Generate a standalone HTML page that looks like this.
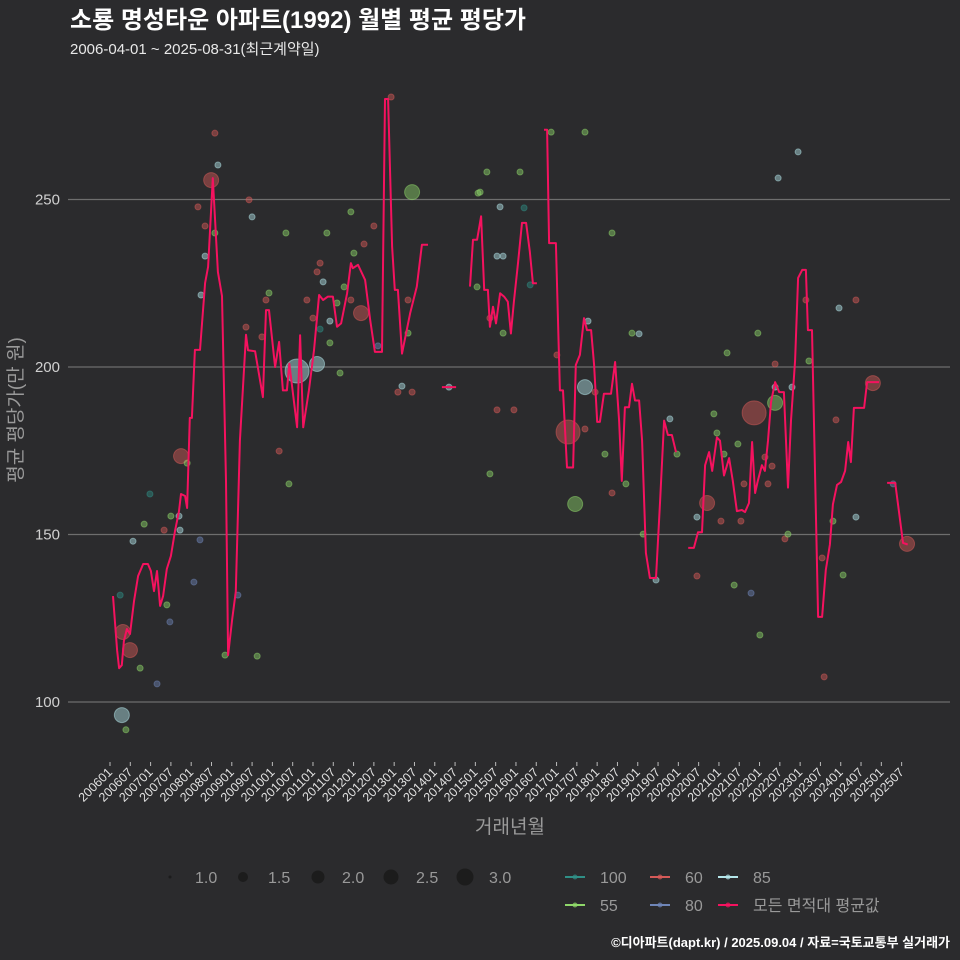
<!DOCTYPE html>
<html><head><meta charset="utf-8">
<style>
html,body{margin:0;padding:0;background:#2b2b2d;}
svg{display:block;font-family:"Liberation Sans","Noto Sans CJK KR",sans-serif;}
</style></head>
<body>
<svg id="chart" width="960" height="960" viewBox="0 0 960 960" xmlns="http://www.w3.org/2000/svg">
<rect width="960" height="960" fill="#2b2b2d"/>
<text x="70" y="28" font-size="24" font-weight="bold" fill="#ffffff">소룡 명성타운 아파트(1992) 월별 평균 평당가</text>
<text x="70" y="54" font-size="15" fill="#e8e8e8">2006-04-01 ~ 2025-08-31(최근계약일)</text>
<g id="grid"></g>
<g id="yticks"></g>
<g id="xticks"></g>
<g id="points"></g>
<path id="avgline" fill="none" stroke="#f5125f" stroke-width="2" stroke-linejoin="round"/>
<text transform="translate(22,410) rotate(-90)" text-anchor="middle" font-size="19" fill="#9a9a9a">평균 평당가(만 원)</text>
<text x="510" y="833" text-anchor="middle" font-size="19" fill="#9a9a9a">거래년월</text>
<g>
<circle cx="170" cy="877" r="1.5" fill="#1c1c1c"/>
<text x="195" y="883" font-size="16" fill="#999">1.0</text>
<circle cx="243" cy="877" r="5" fill="#1c1c1c"/>
<text x="268" y="883" font-size="16" fill="#999">1.5</text>
<circle cx="318" cy="877" r="6.5" fill="#1c1c1c"/>
<text x="342" y="883" font-size="16" fill="#999">2.0</text>
<circle cx="391" cy="877" r="7.5" fill="#1c1c1c"/>
<text x="416" y="883" font-size="16" fill="#999">2.5</text>
<circle cx="465" cy="877" r="8.5" fill="#1c1c1c"/>
<text x="489" y="883" font-size="16" fill="#999">3.0</text>
</g>
<g id="colorlegend"></g>
<text x="950" y="947" text-anchor="end" font-size="13" font-weight="bold" fill="#ffffff">©디아파트(dapt.kr) / 2025.09.04 / 자료=국토교통부 실거래가</text>
</svg>
<script>
// month index: 0 = 2006-01
const tickLabels = ["200601","200607","200701","200707","200801","200807","200901","200907","201001","201007","201101","201107","201201","201207","201301","201307","201401","201407","201501","201507","201601","201607","201701","201707","201801","201807","201901","201907","202001","202007","202101","202107","202201","202207","202301","202307","202401","202407","202501","202507"];
const yTicks = [100,150,200,250];
const avgMonths = [0.9,2.1,2.7,3.5,4.1,5.0,5.9,7.1,8.3,9.8,11.2,12.1,13.0,13.9,14.8,15.7,16.8,18.0,19.2,20.4,21.0,22.2,22.8,23.6,24.2,25.1,26.6,28.1,29.0,30.4,31.9,33.1,34.3,34.9,36.1,37.2,38.4,40.2,40.8,42.9,45.2,46.1,47.0,48.8,50.0,51.1,52.3,53.0,55.3,56.2,57.1,58.8,60.3,61.8,63.0,64.4,65.9,67.1,68.3,70.1,71.2,71.8,73.3,75.4,76.9,78.3,80.4,81.3,82.2,83.4,84.2,85.1,86.3,88.7,90.7,92.2,94.0,null,98.1,102.3,null,106.4,107.3,108.5,109.7,110.6,111.7,112.3,113.2,114.1,115.3,116.5,117.6,118.5,119.4,120.6,121.8,123.0,124.1,125.0,126.2,null,128.3,129.2,129.8,131.8,133.0,133.9,135.1,136.9,137.7,138.9,140.1,141.0,142.2,143.1,144.0,144.8,146.0,148.1,149.3,150.5,151.3,152.2,153.4,154.3,155.2,156.4,157.3,158.4,159.6,161.4,162.6,163.8,164.9,166.1,167.3,null,170.9,172.6,173.8,175.0,175.9,177.1,178.0,179.4,180.3,181.5,183.0,184.1,185.3,186.8,187.7,188.9,189.8,190.7,191.5,192.7,193.6,194.5,195.4,196.6,197.8,199.2,200.4,201.3,202.5,203.4,204.6,205.7,206.3,207.5,209.3,210.5,211.6,212.8,213.7,214.9,216.1,217.3,218.2,219.0,219.9,222.9,223.8,227.3,null,229.7,232.1,233.2,234.4,235.8];
const avgValues = [131.6,115.5,110.1,111,118.2,121.8,120.3,130.1,137.6,141.2,141.2,139.1,133.1,139.1,128.7,131.6,139.7,143.6,151.0,157.0,162.1,161.5,157.9,184.8,184.8,205.1,205.1,225.1,229.9,256.4,228.4,221.2,166,114,124.5,133,178,209.6,205,204.7,191,217,217,200,207.5,193,193,201,182,209.5,182,193,205,221.5,220,221,221,212,213,222,231,229.5,230.5,226,214,204.5,204.5,280,280,236,223,223,204,216,224,236.5,236.5,null,194,194,null,224,238,238,245,223,223,212,218,213,222,221,219.5,210,219.5,231,243,243,234.5,225,225,null,270.8,270.8,237,237,193,193,170,170,200.6,203.6,214.6,211,211,200.6,183.6,183.6,192,192,201.5,184,166,188,188,195,190,190,178,144.5,137,137,160,184,179.7,179.7,174.6,null,146,146,150.7,150.7,170.7,174.6,169,179,178,167.6,172.8,166,157,157.3,156.7,159.4,177.6,162.4,166,170.7,169,178,189.5,195.5,192.5,192.5,164,184,202,226.6,229,229,211,211,125.4,125.4,139.4,147,159,164.8,165.7,169,177.6,171.6,187.8,187.8,195.5,195.5,null,165.4,165.4,157,147.5,147];
const ptMonths = [3.0,3.8,3.5,4.7,5.9,6.8,8.9,10.1,11.8,13.9,16.0,16.8,17.7,18.0,20.4,21.0,22.8,20.7,24.8,26.6,26.9,28.1,28.1,26.0,29.9,31.0,31.9,31.0,34.0,37.8,40.2,41.1,42.0,44.9,47.0,46.1,43.5,50.0,52.0,52.9,55.3,58.2,60.0,62.1,61.2,63.0,64.1,67.1,65.0,62.1,65.0,68.0,61.2,69.2,71.2,72.1,71.2,75.1,74.2,78.0,79.2,83.1,86.3,85.1,89.3,88.1,88.1,89.3,100.2,108.8,130.4,140.4,111.4,121.2,109.4,115.3,122.4,114.4,116.2,108.5,124.2,112.3,116.2,148.4,132.1,141.3,140.4,143.4,154.3,156.4,114.4,119.4,135.4,140.4,112.3,146.3,137.5,148.4,152.5,157.6,165.5,167.6,161.4,173.5,176.5,180.6,186.5,178.5,179.4,181.5,185.6,182.4,187.4,190.4,191.5,196.6,196.6,196.6,201.6,193.6,195.7,194.5,197.5,203.4,205.7,206.6,199.5,200.4,173.5,184.5,215.5,220.5,214.6,225.5,213.7,220.5,210.5,216.7,231.5,235.6,211.1,189.5,192.1];
const ptValues = [131.9,120.9,96.1,91.7,115.5,148.0,110.1,153.1,162.1,105.4,151.3,129.0,123.9,155.5,155.5,173.4,171.3,151.3,135.8,148.4,221.5,233.1,242.1,247.8,255.8,240.0,260.3,269.8,114.0,131.9,211.9,249.9,244.8,209.0,222.1,220.0,113.7,174.9,240.0,165.1,198.8,220.0,214.6,231.0,228.4,225.4,240.0,219.1,213.7,211.3,207.2,198.2,200.9,223.9,246.3,234.0,220.0,236.7,216.1,242.1,206.3,280.6,194.3,192.5,192.5,220.0,210.1,252.2,194.0,251.9,270.1,270.1,258.2,258.2,252.2,247.8,247.5,233.1,233.1,223.9,224.5,214.6,210.1,240.0,203.6,213.7,194.0,192.5,210.1,209.9,187.2,187.2,180.6,181.5,168.1,174.0,159.1,162.4,165.1,150.1,184.5,174.0,136.4,155.2,159.4,154.0,154.0,186.0,180.3,174.0,177.0,204.2,165.1,186.3,210.1,189.3,200.9,194.0,194.0,173.1,170.4,165.1,256.4,264.2,220.0,201.8,148.7,150.1,137.6,134.9,217.6,220.0,184.2,195.2,154.0,155.2,143.0,137.9,165.1,147.2,107.5,132.5,120.0];
const ptAreas = ["100","60","85","55","60","85","55","55","100","80","60","55","80","55","85","60","55","85","80","80","85","85","60","60","60","55","85","60","55","80","60","60","85","60","55","60","55","60","55","55","85","60","60","60","60","85","55","55","85","100","55","55","85","55","55","55","60","60","60","60","80","60","85","60","60","60","55","55","85","55","55","55","55","55","55","85","100","85","85","55","100","60","55","55","60","85","85","60","55","85","60","60","60","60","55","55","55","60","55","55","85","55","85","85","60","60","60","55","55","55","55","55","60","60","55","55","60","85","85","60","60","60","85","85","60","55","60","55","60","55","85","60","60","60","55","85","60","55","80","60","60","80","55"];
const ptCounts = [1,2,2,1,2,1,1,1,1,1,1,1,1,1,1,2,1,1,1,1,1,1,1,1,2,1,1,1,1,1,1,1,1,1,1,1,1,1,1,1,3,1,1,1,1,1,1,1,1,1,1,1,2,1,1,1,1,1,2,1,1,1,1,1,1,1,1,2,1,1,1,1,1,1,1,1,1,1,1,1,1,1,1,1,1,1,2,1,1,1,1,1,3,1,1,1,2,1,1,1,1,1,1,1,2,1,1,1,1,1,1,1,1,3,1,2,1,1,1,1,1,1,1,1,1,1,1,1,1,1,1,1,1,2,1,1,1,1,1,2,1,1,1];
const areaColors = {"100":"#2f8f86","60":"#d65a58","85":"#b4e6ea","55":"#8fd86a","80":"#6f86b8"};
const legendKeys = ["100","60","85","55","80","모든 면적대 평균값"];
const legendColors = ["#2f8f86","#d65a58","#b4e6ea","#8fd86a","#6f86b8","#f5125f"];

const NS="http://www.w3.org/2000/svg";
const X0=110, MW=3.383;
function xs(m){return X0+m*MW;}
function ys(v){return 367-(v-200)*3.35;}
function mk(tag,attrs,parent){const e=document.createElementNS(NS,tag);for(const k in attrs)e.setAttribute(k,attrs[k]);parent.appendChild(e);return e;}

const grid=document.getElementById('grid'), yt=document.getElementById('yticks'), xt=document.getElementById('xticks');
yTicks.forEach(v=>{
  const l=mk('line',{x1:68,x2:950,y1:ys(v),y2:ys(v),stroke:'#6e6e6e','stroke-width':1.2},grid);
  
  
  const t=mk('text',{x:60,y:ys(v)+5,'text-anchor':'end','font-size':15,fill:'#d0d0d0'},yt);
  t.textContent=v;
  
  
});
tickLabels.forEach((lab,i)=>{
  const x=xs(i*6);
  const tk=mk('line',{x1:x,x2:x,y1:762,y2:766,stroke:'#bbb','stroke-width':1},xt);
  
  
  const t=mk('text',{x:x+3,y:773,'text-anchor':'end','font-size':12.5,fill:'#e0e0e0',transform:`rotate(-45 ${x+3} 773)`},xt);
  t.textContent=lab;
  
  
});
const pg=document.getElementById('points');
ptMonths.forEach((m,i)=>{
  const col=areaColors[ptAreas[i]];
  const c=mk('circle',{cx:xs(m),cy:ys(ptValues[i]),r:3+(ptCounts[i]-1)*4.5,fill:col,'fill-opacity':0.45,stroke:col,'stroke-opacity':0.5,'stroke-width':1},pg);
  
  
});
let d='',pen=false;
avgMonths.forEach((m,i)=>{
  if(m===null||avgValues[i]===null){pen=false;return;}
  d+=(pen?'L':'M')+xs(m).toFixed(1)+' '+ys(avgValues[i]).toFixed(1)+' ';pen=true;
});
document.getElementById('avgline').setAttribute('d',d);
const cl=document.getElementById('colorlegend');
const pos=[[565,877],[650,877],[718,877],[565,905],[650,905],[718,905]];
legendKeys.forEach((k,i)=>{
  const [x,y]=pos[i];
  const l=mk('line',{x1:x,x2:x+20,y1:y,y2:y,stroke:legendColors[i],'stroke-width':2},cl);
  
  
  const c=mk('circle',{cx:x+10,cy:y,r:2.5,fill:legendColors[i],'fill-opacity':0.7},cl);
  
  
  const t=mk('text',{x:x+35,y:y+6,'font-size':16,fill:'#999'},cl);
  t.textContent=k;
  
  
});
</script>
</body></html>
